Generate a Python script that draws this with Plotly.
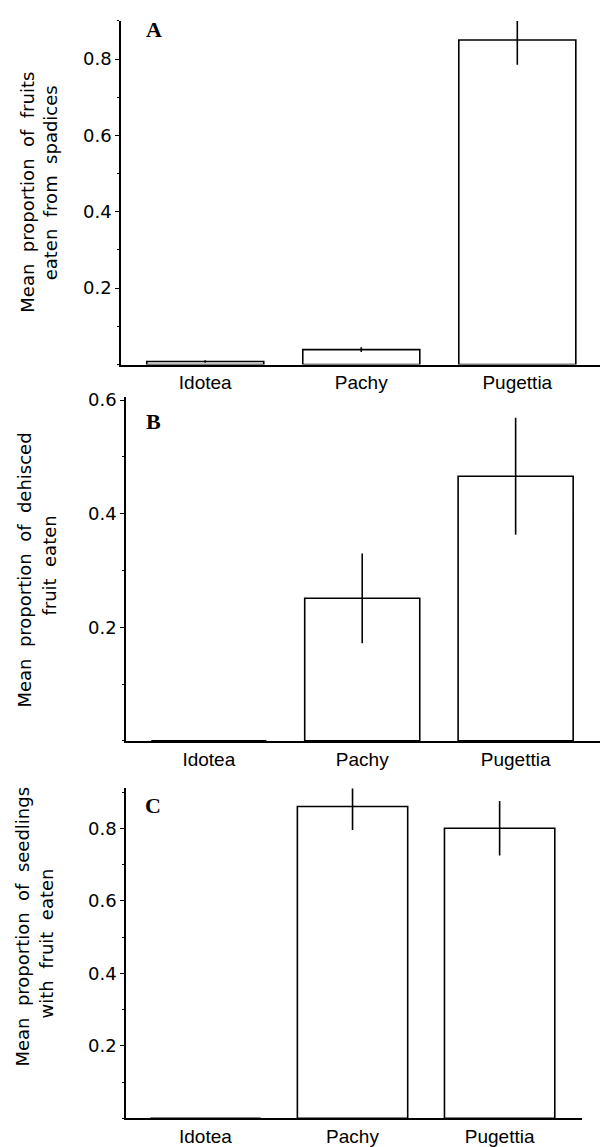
import plotly.graph_objects as go

categories = ["Idotea", "Pachy", "Pugettia"]

a_mean = [0.008, 0.039, 0.850]
a_err = [0.003, 0.006, 0.065]

b_mean = [0.0, 0.251, 0.466]
b_err = [0.0, 0.079, 0.103]

c_mean = [0.0, 0.860, 0.800]
c_err = [0.0, 0.065, 0.075]

a_ticks = [0.2, 0.4, 0.6, 0.8]
b_ticks = [0.2, 0.4, 0.6]
c_ticks = [0.2, 0.4, 0.6, 0.8]

a_title = ["Mean  proportion  of  fruits", "eaten  from  spadices"]
b_title = ["Mean  proportion  of  dehisced", "fruit  eaten"]
c_title = ["Mean  proportion  of  seedlings", "with  fruit  eaten"]

W, H = 600, 1147

def px_x(v):
    return v / W

def px_y(v):
    return 1 - v / H

fig = go.Figure()

panels = [
    (a_mean, a_err, "x", "y"),
    (b_mean, b_err, "x2", "y2"),
    (c_mean, c_err, "x3", "y3"),
]
for mean, err, xa, ya in panels:
    fig.add_trace(go.Bar(
        x=categories, y=mean, xaxis=xa, yaxis=ya, width=0.75,
        marker=dict(color="white", line=dict(color="black", width=1.6)),
        error_y=dict(type="data", array=err, visible=True, width=0,
                     thickness=1.6, color="black"),
        showlegend=False,
    ))

xtickfont = dict(family="Liberation Sans, Arial, sans-serif", size=19, color="black")
ytickfont = dict(family="DejaVu Sans, sans-serif", size=18, color="black")

def xaxis(domain, rng, anchor):
    return dict(domain=domain, range=rng, anchor=anchor, showline=True,
                linecolor="black", linewidth=1.6, ticks="", showgrid=False,
                zeroline=False, tickfont=xtickfont, fixedrange=True)

def yaxis(domain, rng, anchor, tv):
    return dict(domain=domain, range=rng, anchor=anchor, showline=True,
                linecolor="black", linewidth=1.6, ticks="outside", ticklen=4,
                tickwidth=1.4, tickcolor="black", tickvals=tv,
                ticktext=[f"{v:.1f}" for v in tv],
                showgrid=False, zeroline=False, tickfont=ytickfont,
                minor=dict(dtick=0.1, tick0=0, ticks="outside", ticklen=2,
                           tickwidth=1.2, tickcolor="black", showgrid=False),
                fixedrange=True)

fig.update_layout(
    width=W, height=H,
    margin=dict(l=0, r=0, t=0, b=0),
    paper_bgcolor="white", plot_bgcolor="white",
    xaxis=xaxis([px_x(121), 1.0], [-0.54, 2.53], "y"),
    yaxis=yaxis([px_y(360), px_y(13)], [0, 0.9], "x", a_ticks),
    xaxis2=xaxis([px_x(126), 1.0], [-0.54, 2.55], "y2"),
    yaxis2=yaxis([px_y(740), px_y(393)], [0, 0.605], "x2", b_ticks),
    xaxis3=xaxis([px_x(126), px_x(582)], [-0.54, 2.56], "y3"),
    yaxis3=yaxis([px_y(1121), px_y(788)], [0, 0.91], "x3", c_ticks),
    bargap=0.25,
)

titlefont = dict(family="DejaVu Sans, sans-serif", size=18, color="black")
letterfont = dict(family="Liberation Serif, Times New Roman, serif", size=22, color="black")

title_lines = [
    (a_title[0], 28, 186.5), (a_title[1], 50.5, 176.5),
    (b_title[0], 24.5, 567.5), (b_title[1], 50, 563),
    (c_title[0], 23, 927.5), (c_title[1], 46, 944.5),
]
for text, cx, cy in title_lines:
    fig.add_annotation(text=text, x=px_x(cx), y=px_y(cy), xref="paper", yref="paper",
                       textangle=-90, showarrow=False, font=titlefont,
                       xanchor="center", yanchor="middle", align="center")

letters = [("A", 154, 22), ("B", 153, 418), ("C", 153, 805)]
for text, cx, cy in letters:
    fig.add_annotation(text=f"<b>{text}</b>", x=px_x(cx), y=px_y(cy), xref="paper",
                       yref="paper", showarrow=False, font=letterfont,
                       xanchor="center", yanchor="middle")

fig.write_html("out.html")
